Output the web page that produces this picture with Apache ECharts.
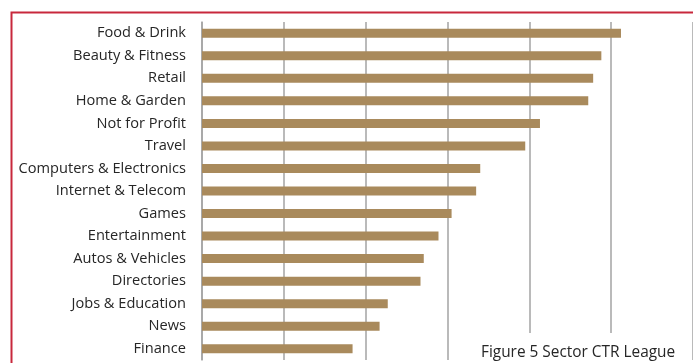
<!DOCTYPE html>
<html>
<head>
<meta charset="utf-8">
<script src="https://cdn.jsdelivr.net/npm/echarts@6/dist/echarts.min.js"></script>
<style>
  html, body { margin: 0; padding: 0; background: #fff; }
  #chart { width: 693px; height: 363px; }
</style>
</head>
<body>
<div id="chart"></div>
<script>
// sectors, top to bottom as in the figure
var sectors = ['Food & Drink', 'Beauty & Fitness', 'Retail', 'Home & Garden', 'Not for Profit',
    'Travel', 'Computers & Electronics', 'Internet & Telecom', 'Games', 'Entertainment',
    'Autos & Vehicles', 'Directories', 'Jobs & Education', 'News', 'Finance'];
var ctr = [5.12, 4.88, 4.78, 4.72, 4.13, 3.95, 3.40, 3.35, 3.05, 2.89, 2.71, 2.67, 2.27, 2.17, 1.84];
var figTitle = 'Figure 5 Sector CTR League';

var chart = echarts.init(document.getElementById('chart'));

// category axis draws bottom-up, so flip
var cats = sectors.slice().reverse();
var vals = ctr.slice().reverse();

var option = {
    backgroundColor: '#ffffff',
    animation: false,
    title: {
        text: figTitle,
        left: 471,
        top: 333,
        padding: [12, 10, 6, 10],
        backgroundColor: '#ffffff',
        textStyle: {
            fontFamily: 'Open Sans',
            fontSize: 15.4,
            fontWeight: 'normal',
            color: '#262626'
        }
    },
    grid: {
        left: 202,
        top: 22,
        width: 492,
        height: 338
    },
    xAxis: {
        type: 'value',
        min: 0,
        max: 6,
        interval: 1,
        axisLine: { show: false },
        axisTick: { show: false },
        axisLabel: { show: false },
        splitLine: { lineStyle: { color: '#a3a3a3', width: 1.5 } }
    },
    yAxis: {
        type: 'category',
        data: cats,
        axisLine: { lineStyle: { color: '#a3a3a3', width: 1.5 } },
        axisTick: { length: 5, lineStyle: { color: '#a3a3a3', width: 1.5 } },
        axisLabel: {
            margin: 16,
            fontFamily: 'Open Sans',
            fontSize: 14.6,
            color: '#262626'
        }
    },
    series: [{
        type: 'bar',
        data: vals,
        barWidth: 9,
        itemStyle: { color: '#a98a5c' }
    }],
    graphic: [{
        type: 'polyline',
        shape: { points: [[11.5, 363], [11.5, 12.5], [693, 12.5]] },
        style: { stroke: '#c8283c', lineWidth: 2, fill: null }
    }]
};
chart.setOption(option);
</script>
</body>
</html>
